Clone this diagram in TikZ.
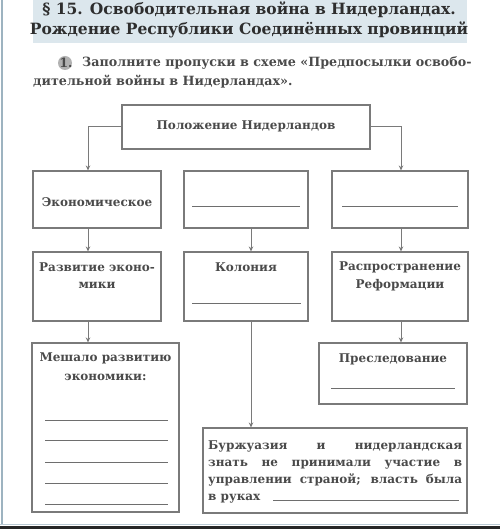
\documentclass[tikz,border=0pt]{standalone}
\usepackage{fontspec}
\setmainfont{DejaVu Serif}
\usetikzlibrary{arrows.meta}
\definecolor{txt}{HTML}{4A4A4A}
\definecolor{ttl}{HTML}{2E2E2E}
\definecolor{band}{HTML}{DCE7ED}
\definecolor{frame}{HTML}{7A7A7A}
\definecolor{blank}{HTML}{6E6E6E}
\definecolor{edge}{HTML}{9DB3C0}
\tikzset{
  box/.style={draw=frame, line width=1.1pt, minimum width=#1, inner sep=0pt},
  lbl/.style={text=txt, font=\bfseries\fontsize{12}{14}\selectfont, inner sep=0pt, align=center},
  instr/.style={text=txt, font=\bfseries\fontsize{12.7}{15}\selectfont, inner sep=0pt},
  blankline/.style={draw=blank, line width=0.9pt},
  arr/.style={draw=frame, line width=1pt, -{Stealth[length=5pt,width=4.5pt]}},
}
\begin{document}
\begin{tikzpicture}[x=1pt,y=-1pt]
\useasboundingbox (0,0) rectangle (500,529);
\fill[white] (0,0) rectangle (500,529);
% edges
\draw[edge, line width=1.5pt] (2,0) -- (2,524);
\fill[black!85] (0,525.5) rectangle (500,529);
\draw[edge!70, line width=1pt] (0,524) -- (500,524);
% title band
\fill[band] (33,0) rectangle (467,43);
\node[text=ttl, font=\bfseries\fontsize{15.5}{18}\selectfont, inner sep=0pt] (t1) at (249,10) {§ 15. Освободительная война в Нидерландах.};
\node[text=ttl, font=\bfseries\fontsize{15.5}{18}\selectfont, inner sep=0pt] (t2) at (249,30) {Рождение Республики Соединённых провинций};
% instruction
\fill[black!30] (65,63) circle (7);
\node[instr] (n1) at (66,63) {1.};
\node[instr, anchor=west] (i1) at (82,63) {Заполните пропуски в схеме «Предпосылки освобо-};
\node[instr, anchor=west] (i2) at (33,82) {дительной войны в Нидерландах».};
% boxes
\node[box=248pt, minimum height=44pt] (top) at (246,127) {};
\node[box=128pt, minimum height=57pt] (A) at (97,199.5) {};
\node[box=124pt, minimum height=57pt] (B) at (246,199.5) {};
\node[box=136pt, minimum height=57pt] (C) at (400,199.5) {};
\node[box=128pt, minimum height=69pt] (D) at (97,286.5) {};
\node[box=124pt, minimum height=69pt] (E) at (246,286.5) {};
\node[box=136pt, minimum height=69pt] (F) at (400,286.5) {};
\node[box=147pt, minimum height=169pt] (G) at (105.5,427.5) {};
\node[box=148pt, minimum height=61pt] (H) at (393,373.5) {};
\node[box=264pt, minimum height=85pt] (I) at (335,470.5) {};
% labels
\node[lbl] (ltop) at (246,126) {Положение Нидерландов};
\node[lbl] (lA) at (97,202) {Экономическое};
\draw[blankline] (192,206) -- (300,206);
\draw[blankline] (342,206) -- (458,206);
\node[lbl] (lD1) at (97,267) {Развитие эконо-};
\node[lbl] (lD2) at (97,285) {мики};
\node[lbl] (lE) at (246,267) {Колония};
\draw[blankline] (192,303) -- (301,303);
\node[lbl] (lF1) at (400,267) {Распространение};
\node[lbl] (lF2) at (400,285) {Реформации};
\node[lbl] (lG1) at (105.5,358) {Мешало развитию};
\node[lbl] (lG2) at (105.5,377) {экономики:};
\foreach \yy in {420,440,462,483,504} \draw[blankline] (45,\yy) -- (168,\yy);
\node[lbl] (lH) at (393,359) {Преследование};
\draw[blankline] (331,388) -- (455,388);
\node[lbl, anchor=base west] (lI1) at (208,449) {\makebox[254pt][s]{Буржуазия и нидерландская}};
\node[lbl, anchor=base west] (lI2) at (208,466) {\makebox[254pt][s]{знать не принимали участие в}};
\node[lbl, anchor=base west] (lI3) at (208,483) {\makebox[254pt][s]{управлении страной; власть была}};
\node[lbl, anchor=base west] (lI4) at (208,500) {в руках};
\draw[blankline] (273,500) -- (459,500);
% connectors
\draw[arr] (top.west) -| ([xshift=-9pt]A.north);
\draw[arr] (top.east) -| ([xshift=1pt]C.north);
\draw[arr] ([xshift=-9pt]A.south) -- ([xshift=-9pt]D.north);
\draw[arr] ([xshift=5pt]B.south) -- ([xshift=5pt]E.north);
\draw[arr] ([xshift=1pt]C.south) -- ([xshift=1pt]F.north);
\draw[arr] ([xshift=-9pt]D.south) -- ([xshift=-9pt]D.south |- G.north);
\draw[arr] ([xshift=5pt]E.south) -- ([xshift=5pt]E.south |- I.north);
\draw[arr] ([xshift=1pt]F.south) -- ([xshift=1pt]F.south |- H.north);
\end{tikzpicture}
\end{document}
